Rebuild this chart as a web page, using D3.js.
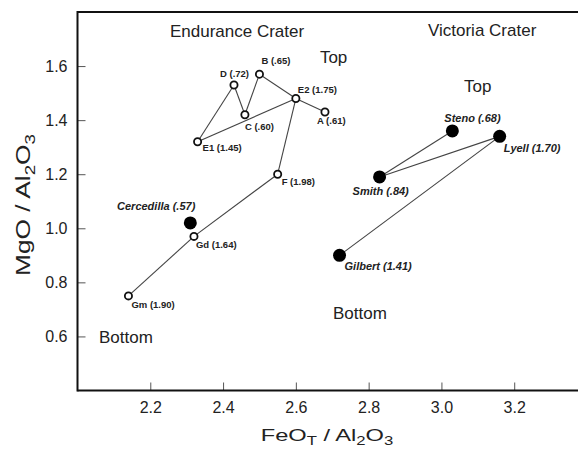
<!DOCTYPE html>
<html>
<head>
<meta charset="utf-8">
<script src="https://cdn.jsdelivr.net/npm/d3@7"></script>
<style>
  html, body { margin: 0; padding: 0; background: #fff; }
  svg { display: block; font-family: Arial, "Liberation Sans", Helvetica, sans-serif; }
  .tick text { font-size: 16px; fill: #222; }
  .tick line { stroke: #555; stroke-width: 1; }
  .note { font-size: 17px; fill: #222; }
  .lbl-small { font-size: 9.5px; font-weight: bold; fill: #222; }
  .lbl-big { font-size: 11px; font-weight: bold; font-style: italic; fill: #222; }
  .link { stroke: #444; stroke-width: 1.1; fill: none; }
  .frame { stroke: #111; stroke-width: 2; }
</style>
</head>
<body>
<svg id="chart" width="578" height="450"></svg>
<script>
// Endurance Crater (open circles)
var enduranceNames = ['Gm', 'Gd', 'F', 'E2', 'A', 'B', 'C', 'D', 'E1'];
var enduranceLabels = ['Gm (1.90)', 'Gd (1.64)', 'F (1.98)', 'E2 (1.75)', 'A (.61)', 'B (.65)', 'C (.60)', 'D (.72)', 'E1 (1.45)'];
var enduranceFeo = [2.14, 2.32, 2.55, 2.60, 2.68, 2.50, 2.46, 2.43, 2.33];
var enduranceMgo = [0.75, 0.97, 1.20, 1.48, 1.43, 1.57, 1.42, 1.53, 1.32];
var enduranceLinks = [['Gm', 'Gd'], ['Gd', 'F'], ['F', 'E2'], ['E2', 'A'], ['B', 'E2'], ['B', 'C'], ['C', 'D'], ['D', 'E1'], ['E1', 'E2']];

// Victoria Crater (filled circles)
var victoriaNames = ['Steno', 'Lyell', 'Smith', 'Gilbert'];
var victoriaLabels = ['Steno (.68)', 'Lyell (1.70)', 'Smith (.84)', 'Gilbert (1.41)'];
var victoriaFeo = [3.03, 3.16, 2.83, 2.72];
var victoriaMgo = [1.36, 1.34, 1.19, 0.90];
var victoriaLinks = [['Steno', 'Smith'], ['Smith', 'Lyell'], ['Lyell', 'Gilbert']];

// Cercedilla (filled, unconnected)
var otherLabels = ['Cercedilla (.57)'];
var otherFeo = [2.31];
var otherMgo = [1.02];

var xTicks = [2.2, 2.4, 2.6, 2.8, 3.0, 3.2];
var yTicks = [0.6, 0.8, 1.0, 1.2, 1.4, 1.6];

// free annotations, in data units
var notes = [
    { text: 'Endurance Crater', x: 2.254, y: 1.708 },
    { text: 'Victoria Crater', x: 2.963, y: 1.711 },
    { text: 'Top', x: 2.666, y: 1.613 },
    { text: 'Top', x: 3.062, y: 1.505 },
    { text: 'Bottom', x: 2.059, y: 0.576 },
    { text: 'Bottom', x: 2.702, y: 0.665 }
];

// label offsets (px) from their point
var labelOffsets = {
    'Gm': [3, 12, 'start'], 'Gd': [2, 12, 'start'], 'F': [4, 11, 'start'],
    'E2': [2, -6, 'start'], 'A': [-8, 12, 'start'], 'B': [2, -10, 'start'],
    'C': [0, 15, 'start'], 'D': [-14, -8, 'start'], 'E1': [5, 9, 'start'],
    'Steno': [-8, -9, 'start'], 'Lyell': [4, 16, 'start'],
    'Smith': [-27, 18, 'start'], 'Gilbert': [5, 15, 'start'],
    'Cercedilla': [5, -13, 'end']
};

var svg = d3.select('#chart');
var x = d3.scaleLinear().domain([2.0, 3.4]).range([77.5, 587]);
var y = d3.scaleLinear().domain([0.4, 1.8]).range([390.5, 12]);

function rows(names, labels, xs, ys) {
    return names.map(function (n, i) {
        return { name: n, label: labels[i], x: xs[i], y: ys[i] };
    });
}
var endurance = rows(enduranceNames, enduranceLabels, enduranceFeo, enduranceMgo);
var victoria = rows(victoriaNames, victoriaLabels, victoriaFeo, victoriaMgo);
var others = rows(['Cercedilla'], otherLabels, otherFeo, otherMgo);

// axes
var xAxis = d3.axisBottom(x).tickValues(xTicks).tickFormat(d3.format('.1f'))
    .tickSize(-8).tickSizeOuter(0).tickPadding(11);
var yAxis = d3.axisLeft(y).tickValues(yTicks).tickFormat(d3.format('.1f'))
    .tickSize(-8).tickSizeOuter(0).tickPadding(10);

var gx = svg.append('g').attr('transform', 'translate(0,' + y(0.4) + ')').call(xAxis);
var gy = svg.append('g').attr('transform', 'translate(' + x(2.0) + ',0)').call(yAxis);
gx.select('.domain').remove();
gy.select('.domain').remove();
svg.selectAll('.tick text').attr('font-family', null).attr('font-size', null);

// frame: top, left and bottom lines
var frame = svg.append('g');
frame.append('line').attr('class', 'frame')
    .attr('x1', x(2.0)).attr('x2', 578).attr('y1', y(1.8)).attr('y2', y(1.8));
frame.append('line').attr('class', 'frame')
    .attr('x1', x(2.0)).attr('x2', x(2.0)).attr('y1', y(1.8) - 1).attr('y2', y(0.4) + 1);
frame.append('line').attr('class', 'frame')
    .attr('x1', x(2.0)).attr('x2', 578).attr('y1', y(0.4)).attr('y2', y(0.4));

// links
function drawLinks(data, links) {
    var byName = {};
    data.forEach(function (d) { byName[d.name] = d; });
    svg.append('g').selectAll('line').data(links).enter().append('line')
        .attr('class', 'link')
        .attr('x1', function (l) { return x(byName[l[0]].x); })
        .attr('y1', function (l) { return y(byName[l[0]].y); })
        .attr('x2', function (l) { return x(byName[l[1]].x); })
        .attr('y2', function (l) { return y(byName[l[1]].y); });
}
drawLinks(endurance, enduranceLinks);
drawLinks(victoria, victoriaLinks);

// points
svg.append('g').selectAll('circle').data(endurance).enter().append('circle')
    .attr('cx', function (d) { return x(d.x); })
    .attr('cy', function (d) { return y(d.y); })
    .attr('r', 3.6)
    .attr('fill', '#fff').attr('stroke', '#111').attr('stroke-width', 1.8);

svg.append('g').selectAll('circle').data(victoria.concat(others)).enter().append('circle')
    .attr('cx', function (d) { return x(d.x); })
    .attr('cy', function (d) { return y(d.y); })
    .attr('r', 6.5)
    .attr('fill', '#000');

// point labels
function drawLabels(data, cls) {
    svg.append('g').selectAll('text').data(data).enter().append('text')
        .attr('class', cls)
        .attr('x', function (d) { return x(d.x) + labelOffsets[d.name][0]; })
        .attr('y', function (d) { return y(d.y) + labelOffsets[d.name][1]; })
        .attr('text-anchor', function (d) { return labelOffsets[d.name][2]; })
        .text(function (d) { return d.label; });
}
drawLabels(endurance, 'lbl-small');
drawLabels(victoria.concat(others), 'lbl-big');

// annotations
svg.append('g').selectAll('text').data(notes).enter().append('text')
    .attr('class', 'note')
    .attr('x', function (d) { return x(d.x); })
    .attr('y', function (d) { return y(d.y); })
    .text(function (d) { return d.text; });

// axis titles
var xt = svg.append('text')
    .attr('transform', 'translate(327,441) scale(1.39,1)')
    .attr('text-anchor', 'middle')
    .attr('font-size', 17).attr('fill', '#222');
xt.append('tspan').text('FeO');
xt.append('tspan').attr('dy', 4).attr('font-size', 12).text('T');
xt.append('tspan').attr('dy', -4).text(' / Al');
xt.append('tspan').attr('dy', 4).attr('font-size', 12).text('2');
xt.append('tspan').attr('dy', -4).text('O');
xt.append('tspan').attr('dy', 4).attr('font-size', 12).text('3');

var yt = svg.append('text')
    .attr('transform', 'translate(30,205) rotate(-90) scale(1.25,1)')
    .attr('text-anchor', 'middle')
    .attr('font-size', 21).attr('fill', '#222');
yt.append('tspan').text('MgO / Al');
yt.append('tspan').attr('dy', 5).attr('font-size', 15).text('2');
yt.append('tspan').attr('dy', -5).text('O');
yt.append('tspan').attr('dy', 5).attr('font-size', 15).text('3');
</script>
</body>
</html>
